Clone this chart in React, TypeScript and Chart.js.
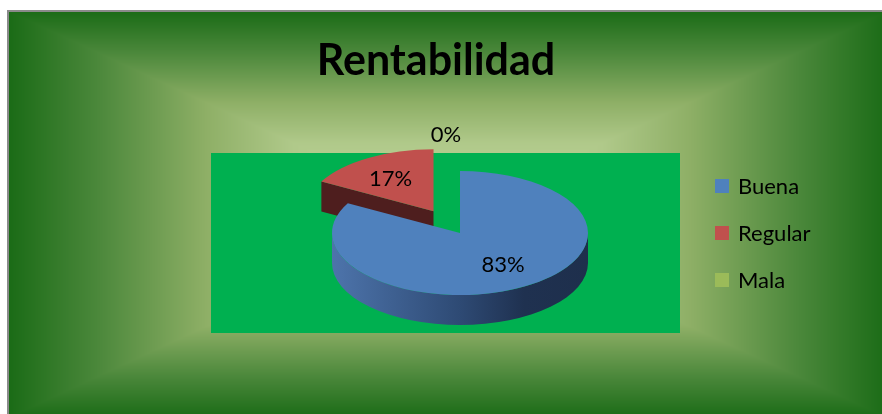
import React, { useEffect, useRef } from 'react';
import { Chart, registerables } from 'chart.js';

Chart.register(...registerables);

// ---- data ----
const categories: string[] = ['Buena', 'Regular', 'Mala'];
const values: number[] = [83, 17, 0];
const explode: number[] = [0, 52, 0];
const titleText = 'Rentabilidad';

// ---- styles ----
const topColors = ['#4f81bd', '#c0504d', '#9bbb59'];
const wallStops: [number, string][][] = [
  [[0, '#4d74ab'], [0.5, '#2e4a74'], [0.75, '#1f3150'], [1, '#1e2f4c']],
  [[0, '#7a2f2d'], [1, '#4a1d1d']],
  [[0, '#7a9345'], [1, '#4f6129']],
];
const faceColors = ['#2a4268', '#4e1e1e', '#5c7030'];
const K = 62 / 128;
const DEPTH = 30;
const FONT = 'Lato, "Liberation Sans", sans-serif';

function hexToRgb(h: string) {
  return [parseInt(h.slice(1, 3), 16), parseInt(h.slice(3, 5), 16), parseInt(h.slice(5, 7), 16)];
}

function drawBackground(chart: any) {
  const ctx: CanvasRenderingContext2D = chart.ctx;
  const W = chart.width, H = chart.height;
  const x0 = 8, y0 = 11, x1 = 888, y1 = 418;
  const cx = (x0 + x1) / 2, cy = (y0 + y1) / 2;
  const hw = (x1 - x0) / 2, hh = (y1 - y0) / 2;
  const stops: [number, number[]][] = ([
    [0, '#1a6b16'], [0.2, '#4a873a'], [0.45, '#8eaf66'], [0.65, '#b0c98a'], [1, '#c2d89c'],
  ] as [number, string][]).map(([o, c]) => [o, hexToRgb(c)]);
  const img = ctx.createImageData(W, H);
  const d = img.data;
  for (let y = 0; y < H; y++) {
    for (let x = 0; x < W; x++) {
      const idx = (y * W + x) * 4;
      if (x < x0 || y < y0) {
        d[idx] = 255; d[idx + 1] = 255; d[idx + 2] = 255; d[idx + 3] = 255;
        continue;
      }
      const t = Math.max(Math.abs(x + 0.5 - cx) / hw, Math.abs(y + 0.5 - cy) / hh);
      const s = Math.min(1, Math.max(0, 1 - t));
      let k = 0;
      while (k < stops.length - 2 && s > stops[k + 1][0]) k++;
      const [o0, c0] = stops[k];
      const [o1, c1] = stops[k + 1];
      const f = Math.min(1, Math.max(0, (s - o0) / (o1 - o0)));
      d[idx] = c0[0] + (c1[0] - c0[0]) * f;
      d[idx + 1] = c0[1] + (c1[1] - c0[1]) * f;
      d[idx + 2] = c0[2] + (c1[2] - c0[2]) * f;
      d[idx + 3] = 255;
    }
  }
  ctx.putImageData(img, 0, 0);
  ctx.save();
  ctx.strokeStyle = '#8a8a8a';
  ctx.lineWidth = 2;
  ctx.beginPath();
  ctx.moveTo(x0, y1);
  ctx.lineTo(x0, y0);
  ctx.lineTo(x1, y0);
  ctx.stroke();
  // plot area
  ctx.fillStyle = '#00b050';
  ctx.fillRect(211, 153, 469, 180);
  // title
  ctx.fillStyle = '#000000';
  ctx.font = `bold 43px ${FONT}`;
  ctx.textAlign = 'center';
  ctx.textBaseline = 'alphabetic';
  ctx.fillText(titleText, 436, 75);
  ctx.restore();
}

function sliceGeom(arc: any, i: number) {
  const p = arc.getProps(['x', 'y', 'startAngle', 'endAngle', 'outerRadius'], true);
  const h = (p.startAngle + p.endAngle) / 2;
  const ex = explode[i] || 0;
  return {
    ...p,
    h,
    cx: p.x + Math.cos(h) * ex,
    cy: p.y + Math.sin(h) * ex * K,
  };
}

function drawWalls(ctx: CanvasRenderingContext2D, g: any, i: number) {
  const r = g.outerRadius;
  const s = g.startAngle, e = g.endAngle;
  const ranges = [[0, Math.PI], [2 * Math.PI, 3 * Math.PI], [-2 * Math.PI, -Math.PI]];
  for (const [lo, hi] of ranges) {
    const a1 = Math.max(s, lo), a2 = Math.min(e, hi);
    if (a2 <= a1) continue;
    const grad = ctx.createLinearGradient(g.cx - r, 0, g.cx + r, 0);
    wallStops[i].forEach(([o, c]) => grad.addColorStop(o, c));
    ctx.fillStyle = grad;
    ctx.beginPath();
    ctx.ellipse(g.cx, g.cy, r, r * K, 0, a1, a2, false);
    ctx.lineTo(g.cx + r * Math.cos(a2), g.cy + r * K * Math.sin(a2) + DEPTH);
    ctx.ellipse(g.cx, g.cy + DEPTH, r, r * K, 0, a2, a1, true);
    ctx.closePath();
    ctx.fill();
  }
  const face = (a: number) => {
    ctx.fillStyle = faceColors[i];
    ctx.beginPath();
    ctx.moveTo(g.cx, g.cy);
    ctx.lineTo(g.cx + r * Math.cos(a), g.cy + r * K * Math.sin(a));
    ctx.lineTo(g.cx + r * Math.cos(a), g.cy + r * K * Math.sin(a) + DEPTH);
    ctx.lineTo(g.cx, g.cy + DEPTH);
    ctx.closePath();
    ctx.fill();
  };
  if (Math.cos(s) < -0.01) face(s);
  if (Math.cos(e) > 0.01) face(e);
}

const pie3dPlugin = {
  id: 'pie3d',
  beforeDraw(chart: any) {
    drawBackground(chart);
  },
  beforeDatasetsDraw(chart: any) {
    const ctx: CanvasRenderingContext2D = chart.ctx;
    const meta = chart.getDatasetMeta(0);
    const items = meta.data.map((arc: any, i: number) => ({ arc, i, g: sliceGeom(arc, i) }))
      .filter((it: any) => it.g.endAngle - it.g.startAngle > 0)
      .sort((a: any, b: any) => Math.sin(a.g.h) - Math.sin(b.g.h));
    for (const it of items) {
      ctx.save();
      drawWalls(ctx, it.g, it.i);
      ctx.restore();
      ctx.save();
      ctx.translate(it.g.cx, it.g.cy);
      ctx.scale(1, K);
      ctx.translate(-it.g.x, -it.g.y);
      it.arc.draw(ctx);
      ctx.restore();
    }
    return false;
  },
  afterDraw(chart: any) {
    const ctx: CanvasRenderingContext2D = chart.ctx;
    const meta = chart.getDatasetMeta(0);
    const total = values.reduce((a, b) => a + b, 0);
    ctx.save();
    ctx.fillStyle = '#000000';
    ctx.font = `22px ${FONT}`;
    ctx.textAlign = 'center';
    ctx.textBaseline = 'middle';
    meta.data.forEach((arc: any, i: number) => {
      const g = sliceGeom(arc, i);
      const r = g.outerRadius;
      const txt = Math.round((values[i] / total) * 100) + '%';
      let x: number, y: number;
      if (values[i] > 0) {
        x = g.cx + Math.cos(g.h) * r * 0.66;
        y = g.cy + Math.sin(g.h) * r * K * 0.6;
      } else {
        x = g.cx + Math.cos(g.h) * (r + 20) - 14;
        y = g.cy + Math.sin(g.h) * (r * K + 36);
      }
      ctx.fillText(txt, x, y);
    });
    // legend
    ctx.textAlign = 'left';
    categories.forEach((c, i) => {
      const yc = 186 + i * 47;
      ctx.fillStyle = topColors[i];
      ctx.fillRect(715, yc - 7, 14, 14);
      ctx.fillStyle = '#000000';
      ctx.fillText(c, 738, yc + 1);
    });
    ctx.restore();
  },
};

export default function App() {
  const ref = useRef<HTMLCanvasElement | null>(null);
  useEffect(() => {
    if (!ref.current) return;
    const chart = new Chart(ref.current, {
      type: 'pie',
      data: {
        labels: categories,
        datasets: [
          {
            data: values,
            backgroundColor: topColors,
            borderWidth: 0,
            radius: 128,
          } as any,
        ],
      },
      options: {
        responsive: false,
        animation: false,
        devicePixelRatio: 1,
        layout: { padding: { left: 340, right: 302, top: 180, bottom: 128 } },
        plugins: {
          legend: { display: false },
          title: { display: false },
          tooltip: { enabled: false },
        },
        events: [],
      },
      plugins: [pie3dPlugin],
    });
    return () => chart.destroy();
  }, []);
  return (
    <div style={{ position: 'fixed', left: 0, top: 0, width: 882, height: 414 }}>
      <canvas ref={ref} width={882} height={414} style={{ display: 'block' }} />
    </div>
  );
}
